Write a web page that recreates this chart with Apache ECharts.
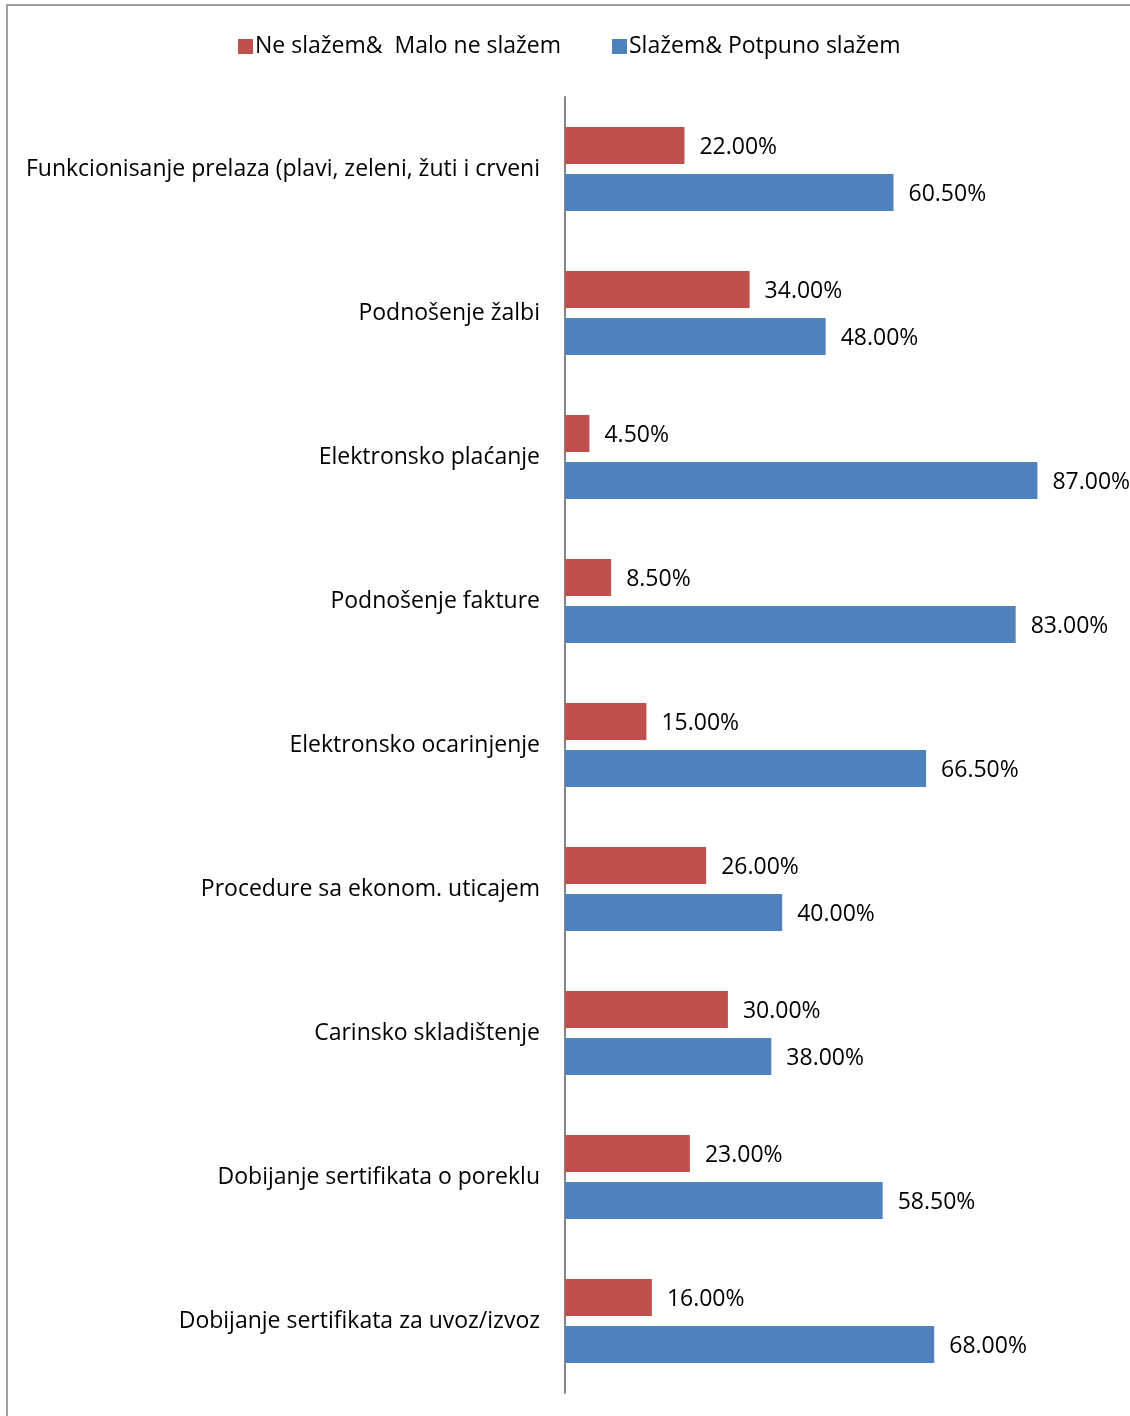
<!DOCTYPE html>
<html>
<head>
<meta charset="utf-8">
<script src="https://cdn.jsdelivr.net/npm/echarts@6/dist/echarts.min.js"></script>
<style>
  html, body { margin: 0; padding: 0; background: #fff; overflow: hidden; }
  #frame { position: absolute; left: 6px; top: 4px; width: 1140px; height: 1430px;
           border-left: 2px solid #a0a0a0; border-top: 2px solid #a0a0a0; }
  #chart { position: absolute; left: 0; top: 0; width: 1130px; height: 1416px; }
</style>
</head>
<body>
<div id="frame"></div>
<div id="chart"></div>
<script>
const categories = [
  'Funkcionisanje prelaza (plavi, zeleni, žuti i crveni',
  'Podnošenje žalbi',
  'Elektronsko plaćanje',
  'Podnošenje fakture',
  'Elektronsko ocarinjenje',
  'Procedure sa ekonom. uticajem',
  'Carinsko skladištenje',
  'Dobijanje sertifikata o poreklu',
  'Dobijanje sertifikata za uvoz/izvoz'
];
const disagree = [22.0, 34.0, 4.5, 8.5, 15.0, 26.0, 30.0, 23.0, 16.0];
const agree = [60.5, 48.0, 87.0, 83.0, 66.5, 40.0, 38.0, 58.5, 68.0];
const seriesNames = ['Ne slažem&  Malo ne slažem', 'Slažem& Potpuno slažem'];

const FONT = 'Open Sans';
const SIZE = 23;
const chart = echarts.init(document.getElementById('chart'));
const labelStyle = {
  show: true,
  position: 'right',
  distance: 15,
  offset: [0, 2],
  color: '#000',
  fontFamily: FONT,
  fontSize: SIZE,
  formatter: p => p.value.toFixed(2) + '%'
};
const legendBase = {
  top: 30,
  itemWidth: 15,
  itemHeight: 15,
  icon: 'rect',
  textStyle: { fontFamily: FONT, fontSize: SIZE, color: '#000', padding: [0, 0, 0, -3] }
};
chart.setOption({
  animation: false,
  legend: [
    Object.assign({ left: 233, data: [seriesNames[0]] }, legendBase),
    Object.assign({ left: 607, data: [seriesNames[1]] }, legendBase)
  ],
  grid: { left: 565, right: 22, top: 97, bottom: 23 },
  xAxis: {
    type: 'value', min: 0, max: 100,
    show: false
  },
  yAxis: {
    type: 'category',
    inverse: true,
    data: categories,
    axisLine: { lineStyle: { color: '#868686', width: 2 } },
    axisTick: { show: false },
    axisLabel: { margin: 25, color: '#000', fontFamily: FONT, fontSize: SIZE, padding: [4, 0, 0, 0] }
  },
  series: [
    {
      name: seriesNames[0], type: 'bar', data: disagree,
      barWidth: 37, barGap: '27%',
      itemStyle: { color: '#C0504D' },
      label: labelStyle
    },
    {
      name: seriesNames[1], type: 'bar', data: agree,
      barWidth: 37,
      itemStyle: { color: '#4F81BD' },
      label: labelStyle
    }
  ]
});
</script>
</body>
</html>
